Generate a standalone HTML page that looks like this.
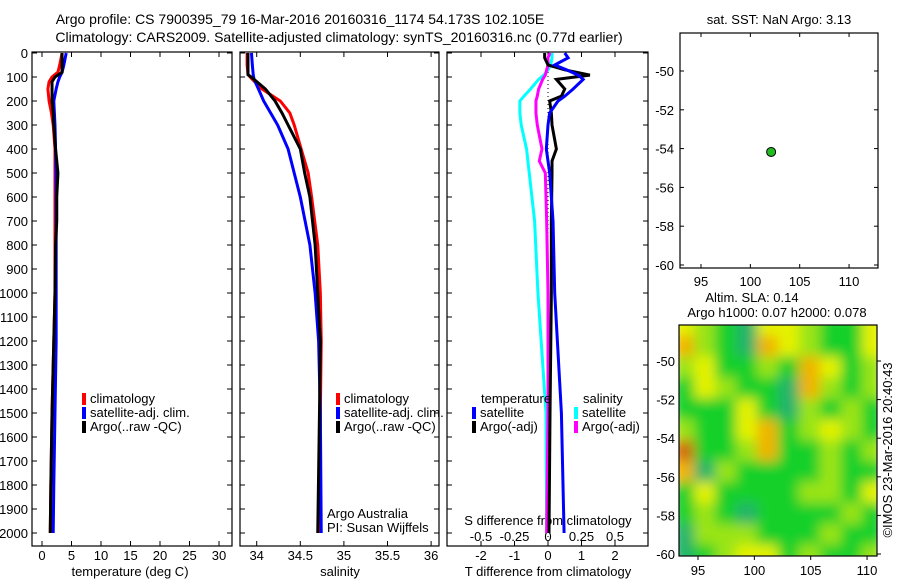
<!DOCTYPE html>
<html><head><meta charset="utf-8"><style>
body{margin:0;background:#fff;}
svg text{font-family:"Liberation Sans",sans-serif;font-size:13px;fill:#000;}
</style></head><body>
<svg id="fig" width="900" height="580" viewBox="0 0 900 580" xmlns="http://www.w3.org/2000/svg">
<defs>
<clipPath id="c1"><rect x="32" y="52" width="200" height="494"/></clipPath>
<clipPath id="c2"><rect x="240" y="52" width="199" height="494"/></clipPath>
<clipPath id="c3"><rect x="447" y="52" width="201" height="494"/></clipPath>
<clipPath id="cm"><rect x="679" y="325" width="198" height="231"/></clipPath>
<filter id="bl" filterUnits="userSpaceOnUse" x="640" y="280" width="280" height="320"><feGaussianBlur stdDeviation="6"/></filter>
</defs>
<text x="300" y="24" text-anchor="middle" style="font-size:14px">Argo profile: CS 7900395_79 16-Mar-2016 20160316_1174 54.173S 102.105E</text>
<text x="339" y="42" text-anchor="middle" style="font-size:14px">Climatology: CARS2009. Satellite-adjusted climatology: synTS_20160316.nc (0.77d earlier)</text>
<text x="779" y="24" text-anchor="middle">sat. SST: NaN Argo: 3.13</text>
<text x="752" y="302" text-anchor="middle">Altim. SLA: 0.14</text>
<text x="777" y="317" text-anchor="middle">Argo h1000: 0.07 h2000: 0.078</text>
<text transform="translate(892,450) rotate(-90)" text-anchor="middle">©IMOS 23-Mar-2016 20:40:43</text>
<g id="g"></g>
</svg>
<script>
// ---- data ----
const tDepth=[0,50,80,100,120,150,200,250,300,400,500,600,700,800,1000,1200,1500,1800,2000];
const tClim=[3.4,3.0,2.7,1.7,1.2,1.0,1.2,1.6,1.9,2.2,2.2,2.2,2.2,2.2,2.2,2.0,1.7,1.5,1.4];
const tSat=[4.1,3.7,3.4,3.0,2.7,2.4,2.0,2.1,2.2,2.3,2.4,2.4,2.4,2.4,2.4,2.4,2.2,2.0,1.9];
const tArgo=[3.4,3.4,3.4,2.2,1.7,1.7,1.7,1.9,2.0,2.3,2.7,2.5,2.5,2.3,2.2,2.0,1.7,1.5,1.4];
const sDepth=[0,50,90,110,150,200,250,300,400,500,600,800,1000,1200,1500,2000];
const sClim=[33.89,33.89,33.9,33.95,34.06,34.27,34.38,34.43,34.51,34.59,34.63,34.70,34.73,34.74,34.73,34.72];
const sSat=[33.94,33.95,33.96,33.97,34.02,34.08,34.16,34.24,34.36,34.43,34.50,34.61,34.67,34.71,34.73,34.74];
const sArgo=[33.9,33.9,33.9,33.97,34.1,34.21,34.29,34.36,34.5,34.55,34.61,34.67,34.70,34.73,34.72,34.70];
const dDepth=[0,20,50,70,92,110,150,180,200,250,300,400,450,500,700,1000,1500,2000];
const dTsat=[0.5,0.6,0.2,0.55,0.9,1.05,0.75,0.5,0.3,0.05,0.0,-0.05,0.0,0.05,0.15,0.2,0.4,0.48];
const dTargo=[-0.1,-0.1,0.0,0.5,1.25,0.25,0.5,0.4,0.05,0.1,0.12,0.25,0.12,0.12,0.1,0.1,0.06,0.03];
const dSsat=[0.03,0.03,0.02,0.0,-0.03,-0.07,-0.13,-0.18,-0.21,-0.21,-0.2,-0.16,-0.15,-0.14,-0.1,-0.075,-0.015,-0.01];
const dSargo=[0.015,0.0,0.0,-0.01,-0.02,-0.04,-0.07,-0.08,-0.09,-0.09,-0.08,-0.045,-0.065,-0.02,-0.01,0.0,0.0,-0.01];
const depthTicks=[0,100,200,300,400,500,600,700,800,900,1000,1100,1200,1300,1400,1500,1600,1700,1800,1900,2000];
const tTicks=[0,5,10,15,20,25,30];
const sTicks=[34,34.5,35,35.5,36];
const dTTicks=[-2,-1,0,1,2];
const dSTicks=[-0.5,-0.25,0,0.25,0.5];
const argoLon=[102.105], argoLat=[-54.173];
const latTicks=[-50,-52,-54,-56,-58,-60];
const lonTicks=[95,100,105,110];
const slaGrid=[
[3,2,1,0,3,3,2,1,1,3],
[4,2,1,0,4,3,2,1,1,3],
[2,3,1,1,2,1,4,3,1,2],
[1,3,2,1,1,0,4,2,1,2],
[1,1,1,3,1,0,2,1,2,1],
[2,1,1,3,4,1,2,3,2,1],
[5,1,1,2,4,1,1,2,1,2],
[4,0,2,1,1,1,1,2,1,1],
[1,3,1,1,1,1,2,2,1,3],
[1,2,1,0,1,1,1,1,2,1],
[0,2,2,2,1,1,1,2,1,1],
[0,1,2,3,3,1,2,1,1,2]];
const slaColors=["#22b46a","#16d02a","#9ae418","#e4f200","#f0b400","#d26a10"];
// ---- scales ----
const yD=d=>53+0.24*d;
const xT=t=>42+5.9*t;
const xS=s=>256.7+87.2*(s-34);
const xDT=t=>548+33.5*t;
const xDS=s=>548+134*s;
const mapX1=lo=>701+(lo-95)*9.87, mapY1=la=>71+(-50-la)*19.4;
const mapX2=lo=>698+(lo-95)*11.27, mapY2=la=>361+(-50-la)*19.3;
const G=document.getElementById('g');
const NS='http://www.w3.org/2000/svg';
function el(tag,attrs,parent){const e=document.createElementNS(NS,tag);for(const k in attrs)e.setAttribute(k,attrs[k]);(parent||G).appendChild(e);return e;}
function txt(x,y,s,anchor,parent){const t=el('text',{x:x,y:y,'text-anchor':anchor||'start'},parent);t.textContent=s;return t;}
function line(xs,ys,color,w,name,clip){
  const p=el('polyline',{points:xs.map((x,i)=>x+','+ys[i]).join(' '),fill:'none',stroke:color,'stroke-width':w,'clip-path':'url(#'+clip+')'});
  
  
}
function frame(x,y,w,h,name){
  const r=el('rect',{x:x,y:y,width:w,height:h,fill:'none',stroke:'#000','stroke-width':1.2});
  
  
}
const panels=[[32,232,'temperature-panel'],[240,439,'salinity-panel'],[447,648,'difference-panel']];
panels.forEach(p=>{
  frame(p[0],52,p[1]-p[0],494,p[2]);
  depthTicks.forEach(d=>{el('line',{x1:p[0],x2:p[0]+5,y1:yD(d),y2:yD(d),stroke:'#000'});el('line',{x1:p[1],x2:p[1]-5,y1:yD(d),y2:yD(d),stroke:'#000'});});
});
depthTicks.forEach(d=>{const t=txt(28,yD(d)+5,String(d),'end');});
function xticks(vals,f,ylab){vals.forEach(v=>{const x=f(v);el('line',{x1:x,x2:x,y1:546,y2:541,stroke:'#000'});el('line',{x1:x,x2:x,y1:52,y2:57,stroke:'#000'});const t=txt(x,ylab,String(v),'middle');});}
xticks(tTicks,xT,560);
xticks(sTicks,xS,560);
xticks(dTTicks,xDT,560);
dSTicks.forEach(v=>{const t=txt(xDS(v),541,String(v),'middle');});
[['temperature (deg C)',130],['salinity',340],['T difference from climatology',548]].forEach(a=>{const t=txt(a[1],576,a[0],'middle');});
const sd=txt(548,525,'S difference from climatology','middle');


el('line',{x1:548,x2:548,y1:52,y2:546,stroke:'#000','stroke-dasharray':'1,3'});
line(tDepth.map((_,i)=>xT(tClim[i])),tDepth.map(yD),'#f00',3,'temp-climatology','c1');
line(tDepth.map((_,i)=>xT(tSat[i])),tDepth.map(yD),'#00f',3,'temp-satellite-clim','c1');
line(tDepth.map((_,i)=>xT(tArgo[i])),tDepth.map(yD),'#000',3,'temp-argo','c1');
line(sDepth.map((_,i)=>xS(sClim[i])),sDepth.map(yD),'#f00',3,'sal-climatology','c2');
line(sDepth.map((_,i)=>xS(sSat[i])),sDepth.map(yD),'#00f',3,'sal-satellite-clim','c2');
line(sDepth.map((_,i)=>xS(sArgo[i])),sDepth.map(yD),'#000',3,'sal-argo','c2');
line(dDepth.map((_,i)=>xDS(dSsat[i])),dDepth.map(yD),'#0ff',3,'s-diff-satellite','c3');
line(dDepth.map((_,i)=>xDS(dSargo[i])),dDepth.map(yD),'#f0f',3,'s-diff-argo','c3');
line(dDepth.map((_,i)=>xDT(dTargo[i])),dDepth.map(yD),'#000',3,'t-diff-argo','c3');
line(dDepth.map((_,i)=>xDT(dTsat[i])),dDepth.map(yD),'#00f',3,'t-diff-satellite','c3');
function legend(x,y,color,label){el('rect',{x:x-2,y:y-10,width:4,height:12,fill:color});const t=txt(x+6,y,label);}
[[84,'climatology','#f00',403],[84,'satellite-adj. clim.','#00f',417],[84,'Argo(..raw -QC)','#000',431]].forEach(a=>legend(a[0],a[3],a[2],a[1]));
[[338,'climatology','#f00',403],[338,'satellite-adj. clim.','#00f',417],[338,'Argo(..raw -QC)','#000',431]].forEach(a=>legend(a[0],a[3],a[2],a[1]));
txt(481,403,'temperature');txt(583,403,'salinity');
legend(474,417,'#00f','satellite');legend(474,431,'#000','Argo(-adj)');
legend(576,417,'#0ff','satellite');legend(576,431,'#f0f','Argo(-adj)');
txt(327,518,'Argo Australia');txt(327,532,'PI: Susan Wijffels');
frame(680,33,198,235,'sst-map');
latTicks.forEach(la=>{const y=mapY1(la);el('line',{x1:680,x2:684,y1:y,y2:y,stroke:'#000'});el('line',{x1:878,x2:874,y1:y,y2:y,stroke:'#000'});const t=txt(674,y+5,String(la),'end');});
lonTicks.forEach(lo=>{const x=mapX1(lo);el('line',{x1:x,x2:x,y1:268,y2:264,stroke:'#000'});el('line',{x1:x,x2:x,y1:33,y2:37,stroke:'#000'});const t=txt(x,286,String(lo),'middle');});
argoLon.forEach((lo,i)=>{const c=el('circle',{cx:mapX1(lo),cy:mapY1(argoLat[i]),r:4.5,fill:'#22bb22',stroke:'#000','stroke-width':1});});
const hg=el('g',{'clip-path':'url(#cm)'});
const hi=el('g',{filter:'url(#bl)'},hg);
const rows=slaGrid.length, cols=slaGrid[0].length;
const lat0=-47.6,lat1=-60.6,lon0=92.8,lon1=111.4;
slaGrid.forEach((row,r)=>row.forEach((v,c)=>{
  const x0=mapX2(lon0+(lon1-lon0)*c/cols), x1=mapX2(lon0+(lon1-lon0)*(c+1)/cols);
  const y0=mapY2(lat0+(lat1-lat0)*r/rows), y1=mapY2(lat0+(lat1-lat0)*(r+1)/rows);
  const cell=el('rect',{x:x0,y:y0,width:x1-x0+0.5,height:y1-y0+0.5,fill:slaColors[v]},hi);
  
  
}));
frame(679,325,198,231,'sla-map');
[-50,-52,-54,-56,-58,-60].forEach(la=>{const y=mapY2(la);el('line',{x1:877,x2:881,y1:y,y2:y,stroke:'#000'});const t=txt(675,y+5,String(la),'end');});
lonTicks.forEach(lo=>{const x=mapX2(lo);el('line',{x1:x,x2:x,y1:556,y2:560,stroke:'#000'});const t=txt(x,575,String(lo),'middle');});
</script>
</body></html>
